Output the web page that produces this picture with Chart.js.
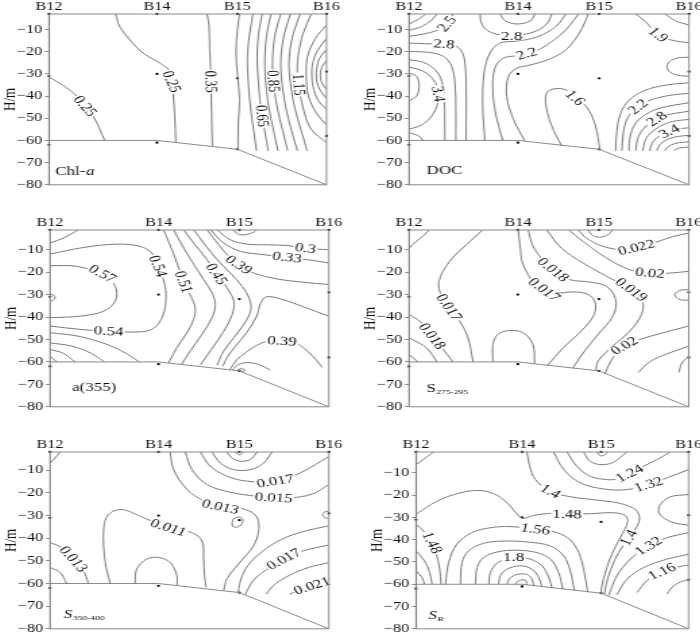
<!DOCTYPE html>
<html>
<head>
<meta charset="utf-8">
<script src="https://cdn.jsdelivr.net/npm/chart.js@4.4.1/dist/chart.umd.min.js"></script>
<style>
  html, body { margin: 0; padding: 0; background: #fff; overflow: hidden; }
  body { width: 700px; height: 635px; position: relative; }
  .panel { position: absolute; transform-origin: 0 0; }
</style>
</head>
<body>
<script>
// Stations and sampling depths
const stationNames = ['B12', 'B14', 'B15', 'B16'];
const stationX = [0, 38.9, 67.9, 100];
const sampleDepths = [[0, -31, -62], [0, -30, -61], [0, -32, -64], [0, -29, -58]];
const bottomX = [0, 38.9, 67.9, 100];
const bottomDepth = [-60, -60, -64, -80];
const depthTicks = [-10, -20, -30, -40, -50, -60, -70, -80];

// Chl-a contours [distance, depth]
const chlLines = [
  [[0,-31.4],[6.4,-36.3],[11.2,-41.5],[15.9,-49],[20.1,-60]],
  [[24,-3],[25.5,-8.7],[29.1,-14.6],[33.9,-20.6],[39.9,-25.1],[43.5,-28.8],[44.7,-38.5],[45.3,-49],[45.7,-61]],
  [[57,-3],[57.7,-8.7],[57.9,-19.1],[58.2,-26.6],[58.5,-41.5],[58.7,-53.5],[58.9,-62.5]],
  [[68.7,-3],[67.9,-10],[67.4,-20],[67.9,-30.3],[68.7,-42],[68.2,-52],[68.1,-64]],
  [[73.5,-3],[72.3,-12],[71.5,-22],[71.7,-31],[72.6,-45],[73.8,-56],[74.8,-64.7]],
  [[76.8,-3],[75.5,-12],[75,-22],[75.3,-31],[76.3,-45],[77.8,-56],[79,-64.7]],
  [[80,-3],[78.5,-12],[77.8,-22],[77.9,-31],[79.2,-45],[81,-56],[82.5,-64.7]],
  [[83.5,-3],[81.5,-12],[80.6,-22],[80.7,-31],[82.2,-45],[84.3,-56],[86,-64.7]],
  [[87,-3],[84.8,-12],[83.6,-22],[83.7,-31],[85.3,-45],[87.5,-56],[89.5,-64.7]],
  [[90.5,-3],[88,-12],[86.6,-22],[86.7,-31],[88.5,-45],[91,-56],[93,-64.7]],
  [[94.5,-3],[91.5,-12],[89.8,-22],[89.6,-31],[91.5,-45],[94.5,-55],[100,-61]],
  [[100,-8],[96,-14],[93.2,-22],[92.7,-30.5],[93.5,-40],[96.5,-48],[100,-53]],
  [[100,-14],[96.5,-20],[94.9,-26],[94.7,-30.5],[95.2,-36],[97,-42],[100,-46]],
  [[100,-19],[97.5,-23],[96.4,-28],[96.3,-30.5],[96.6,-34],[98,-38],[100,-41]],
  [[100,-24],[98.3,-27],[97.8,-30.5],[98.3,-34],[100,-37]]
];
const chlLabels = [['0.25',13,-44.5],['0.25',44.2,-33.5],['0.35',58.3,-33.5],['0.85',80.8,-33.3],['0.65',76.8,-49],['1.15',90,-34.8]];

// DOC contours
const docLines = [
  [[0,-7.5],[3.3,-5.4],[6,-3]],
  [[0,-10.4],[4.5,-8.7],[8.1,-5.7],[9.9,-3]],
  [[0,-13.1],[5.7,-11.9],[10.5,-10.1],[13.5,-7.5],[15.8,-3]],
  [[0,-16.1],[5.7,-16.4],[12.9,-16.6],[16.4,-17.3],[18.8,-19.8],[20,-25.1],[20.4,-35.6],[20.4,-60]],
  [[0,-19.9],[6.9,-20.3],[12.3,-22.1],[15.2,-26.6],[16.4,-34.1],[16.7,-46],[16.7,-60]],
  [[0,-23.6],[5.1,-24.8],[9.3,-28.1],[11.7,-33.3],[12.6,-41.5],[12.8,-60]],
  [[0,-26.9],[5.1,-28.8],[8.7,-32.6],[10.5,-37.8],[10.3,-43],[8.1,-49],[4.5,-53],[0,-55]],
  [[0,-29.6],[2.7,-31.1],[3.6,-35.6],[2.7,-40],[0,-42.3]],
  [[0,-56.5],[3.5,-58],[5,-60]],
  [[25.4,-3],[25.7,-6.5],[27.5,-10],[31,-12],[36.7,-12.8],[42,-12],[46.5,-10],[49.5,-7],[51,-3]],
  [[32.5,-3],[34.3,-6],[38.5,-7.5],[43.2,-6.2],[45,-3]],
  [[27.1,-60],[26.3,-44.5],[26.8,-29.6],[28.9,-20.6],[32.5,-16.1],[38,-15.3],[44,-14],[49,-11.5],[53,-8],[56,-3]],
  [[33.5,-60],[31.1,-49],[29.9,-37],[30.7,-27.3],[33.7,-22.9],[38.4,-21.8],[42,-20.9],[46.8,-18.8],[50.9,-15.5],[54.5,-12],[57.5,-8],[60.5,-3]],
  [[41.4,-60.4],[37.3,-50.5],[34.9,-40.2],[35.5,-31.2],[38.4,-27.5],[43.2,-26],[49.2,-23.8],[55.1,-20.1],[59,-15],[62,-9],[64,-3]],
  [[54.5,-62.5],[50.8,-53],[48.8,-43],[49.5,-38],[53,-36.6],[56.5,-37.5],[59.3,-40.8],[63.5,-45],[66.5,-53],[68.2,-64.2]],
  [[81,-3],[84.5,-6.5],[89,-12.3],[93.5,-14.7],[100,-16]],
  [[91.5,-3],[95,-6],[100,-8]],
  [[100,-22.5],[96,-22.8],[93,-24.5],[92.2,-27],[93.5,-29.5],[97,-30.8],[100,-31]],
  [[73.8,-64.7],[74.2,-56],[75.5,-48],[78.5,-42],[84,-37.5],[92,-35],[100,-34]],
  [[76,-64.7],[76.5,-57],[78,-50],[81.5,-45],[87,-41.5],[94,-39.5],[100,-38.8]],
  [[78.5,-64.7],[79,-58],[80.8,-52.5],[84.5,-48.3],[90,-45.3],[100,-43]],
  [[81,-64.7],[81.6,-59.5],[83.5,-55],[87,-51.3],[91.5,-48.7],[100,-46.8]],
  [[83.5,-64.7],[84.2,-60.5],[86,-57],[89.5,-53.7],[94,-51.5],[100,-50.5]],
  [[86,-64.7],[86.7,-61.5],[88.5,-58.8],[91.5,-56.5],[95,-55],[100,-54.3]],
  [[88.5,-64.7],[89.5,-62],[92,-59.7],[96,-58.2],[100,-57.7]],
  [[91.3,-64.7],[92.5,-62.8],[95,-61.4],[98,-60.8],[100,-60.7]],
  [[94.5,-64.7],[96,-63.6],[98.5,-63.1],[100,-63]]
];
const docLabels = [['2.5',13.5,-7.5],['2.8',12.5,-16.6],['3.4',10.5,-39],['2.8',36.7,-12.8],['2.2',42,-20.9],['1.6',59.3,-40.8],['1.9',89,-12.3],['2.2',81.8,-44.8],['2.8',88.5,-50.3],['3.4',93,-55.9]];

// a(355) contours
const a355Lines = [
  [[0,-7],[4.8,-4.8],[9,-2],[10.2,-1]],
  [[0,-11.9],[12,-9],[24,-7.5],[32.3,-8.5],[36.5,-11.5],[38.6,-16.7],[40.7,-23.3],[41.6,-30.7],[40.4,-39.6],[37.1,-45.1],[32.3,-46.6],[20.4,-46.3],[10.8,-45.5],[0,-44]],
  [[0,-17.1],[9.6,-17.4],[19.2,-21.1],[23.4,-26.3],[23.4,-32.9],[19.2,-37.4],[10.8,-39.6],[0,-40.3]],
  [[0,-29.7],[1.4,-30.3],[1.8,-31.5],[1,-32.6],[0,-33]],
  [[0,-47],[10,-48.5],[20,-52],[27,-56],[32,-60]],
  [[0,-51.5],[8,-53],[14.5,-56],[19.5,-60]],
  [[0,-54.5],[4.5,-56],[9,-60]],
  [[0,-57.5],[2.5,-60]],
  [[40.7,-1],[42.5,-6.3],[44.9,-13.7],[47.7,-23.3],[50.5,-30.7],[52.1,-35.9],[51.5,-41.1],[49.1,-47],[45.5,-53.6],[42.5,-60.5]],
  [[44.3,-1],[47.3,-7.8],[50.9,-15.2],[55.1,-23.3],[58.1,-29.2],[59.3,-34.4],[58.1,-40.3],[54.5,-47.7],[50.3,-55.1],[47.3,-60.9]],
  [[47.9,-1],[51.5,-7],[56.3,-14.4],[59.9,-21.1],[63.5,-27],[65.9,-32.9],[65.3,-38.9],[62.3,-46.3],[57.5,-55.1],[53.9,-61.4]],
  [[51.5,-1],[55.1,-7],[59.9,-14.4],[64.7,-20.4],[68.9,-26.3],[71.6,-32.2],[71.9,-37.4],[69.5,-43.3],[65.9,-49.2],[62.3,-55.1],[59.9,-61.5]],
  [[56.3,-1],[60.5,-7.8],[64.7,-13.7],[67.7,-16.7],[73.1,-20.4],[81.4,-23],[91,-24.5],[100,-25.5]],
  [[65.9,-1],[67.3,-3],[70.1,-3.3],[73.1,-2.1],[74.3,-1]],
  [[59.9,-1],[64.7,-5.6],[70.7,-7.5],[77.8,-7.8],[85,-8.1],[91.6,-9.3],[95.8,-9.7],[100,-10]],
  [[57.5,-1],[62.3,-7],[68.3,-10.7],[76.6,-12.2],[85,-13.4],[92.2,-14.4],[100,-15.9]],
  [[100,-39.6],[91,-35.5],[83,-32],[77.5,-31],[75.5,-34],[74,-40],[70.5,-47],[66.5,-53],[63.5,-58],[62,-61.8]],
  [[64.5,-63.3],[67,-59],[70.1,-55.9],[74.3,-52.5],[78.4,-50.7],[83.2,-50.7],[88,-51.4],[92.2,-55.1],[95.8,-59.6],[97.6,-62.5]],
  [[65.5,-63.5],[67.5,-61.2],[71,-60.3],[75,-61.2],[79,-63.6]],
  [[67.2,-63.6],[68.6,-63],[70,-63.7],[68.6,-64.3],[67.2,-63.6]]
];
const a355Labels = [['0.57',18.8,-20.7],['0.54',38.7,-17.3],['0.54',21,-46.3],['0.51',47.9,-24.3],['0.45',59.7,-20.8],['0.39',67.7,-16.7],['0.33',85,-13.4],['0.3',91.6,-9.3],['0.39',83.2,-50.7]];

// S275-295 contours
const s275Lines = [
  [[0,-9.3],[2.6,-6.3],[5.6,-3.3],[7.2,-1]],
  [[26.5,-1],[20.5,-7.8],[14.5,-15.2],[10.7,-24.1],[11.6,-30.7],[14.5,-35.9],[18.1,-41.8],[21.1,-49.2],[22.9,-60]],
  [[0,-38.9],[4,-42],[8.3,-48.5],[11.8,-53.7],[15.7,-60]],
  [[0,-49.2],[6.2,-53.7],[10,-60]],
  [[0,-56.6],[3.2,-60]],
  [[30,-60],[30,-52.2],[31.8,-47.7],[36,-46],[40.8,-47],[44.3,-52.2],[44.9,-60.8]],
  [[39,-1],[39.8,-9.3],[40.4,-15.2],[42.6,-21.1],[45.5,-26.3],[51.5,-29.2],[59.8,-28.8],[64.6,-30.3],[66.7,-34.4],[65.6,-40.3],[60.4,-47.7],[55.1,-53.7],[49.5,-61.6]],
  [[42.6,-1],[44.1,-7.8],[47.3,-13.7],[51.5,-18.9],[57.4,-23.3],[64.6,-24.4],[70.6,-26.3],[73.9,-32.2],[72.9,-39.6],[67.6,-47.7],[62.8,-55.1],[58.5,-62.8]],
  [[49.1,-1],[54.5,-9.3],[62.2,-15.9],[71.8,-22.6],[79.5,-27.8],[83.4,-32.9],[83.1,-38.9],[78.9,-46.3],[72.9,-52.9],[67.6,-59.6],[66.8,-64]],
  [[56.9,-1],[62.2,-6.3],[70.6,-13.7],[78.9,-18.9],[86.1,-20.4],[93.2,-20.4],[100,-19.6]],
  [[60.4,-1],[63.4,-4.8],[69.4,-8.5],[76.5,-10],[81.3,-9],[88.4,-6.6],[94.4,-4.1],[100,-2.6]],
  [[64,-1],[65.6,-3.6],[68.2,-4.4],[71.2,-3.3],[72.9,-1]],
  [[100,-27.8],[96.8,-28.1],[95,-30],[96.8,-32.2],[100,-32.5]],
  [[70,-65.5],[72,-60],[74.5,-55.5],[77,-52.8],[82.5,-50],[90.8,-47],[100,-44]],
  [[82,-64.7],[86,-60],[92,-56.5],[100,-53]],
  [[96.5,-64.7],[97.5,-60.5],[99.2,-58.5],[100,-57.5]]
];
const s275Labels = [['0.022',81.3,-9],['0.018',51.5,-18.9],['0.017',48.3,-27.8],['0.02',86.1,-20.4],['0.019',79.5,-27.8],['0.017',14.3,-35.7],['0.018',8.3,-48.5],['0.02',77,-52.8]];

// S350-400 contours
const s350Lines = [
  [[0,-6.8],[1.8,-4.6],[3.6,-1.9]],
  [[0,-41.9],[4.2,-44.1],[8.4,-49.2],[12,-54.4],[13.8,-60]],
  [[0,-52.9],[3.6,-55.1],[6,-60]],
  [[21.6,-60],[19.8,-50.7],[19.2,-36.1],[21,-29.5],[25.7,-27.3],[33.5,-30.9],[42.5,-35.3],[50.9,-37.5],[54.5,-41.2],[55.1,-49.2],[55.4,-56.6],[56,-61.7]],
  [[30.5,-60],[31.1,-53.6],[34.7,-49.2],[38.9,-48.5],[43.1,-50.7],[45.5,-56.6],[45.5,-61]],
  [[43.1,-1.9],[44.3,-9.6],[49.1,-18.4],[55.1,-23.5],[61.1,-26.1],[68.3,-26.7],[73.7,-29.8],[74.9,-35.7],[73.1,-43.1],[68.3,-50.4],[63.5,-57.8],[62.3,-63]],
  [[66,-31.2],[68,-30.6],[69.2,-32],[68,-34.6],[65.8,-35],[65.3,-33],[66,-31.2]],
  [[48.5,-1.9],[50.9,-9.6],[56.3,-16.3],[64.7,-19.7],[74.3,-21.5],[80.2,-22.1],[86.2,-22.2],[94,-20.5],[100,-16.3]],
  [[53.9,-1.9],[57.5,-8.2],[63.5,-12.6],[70.7,-14.8],[80.8,-14.8],[89.8,-11.1],[100,-3.9]],
  [[58.1,-1.9],[61.1,-6.8],[65.9,-9.7],[71.9,-9.7],[76.6,-6.8],[79.6,-1.9]],
  [[63.5,-1.9],[65.3,-4.6],[68.3,-6],[71.9,-5.2],[74.3,-1.9]],
  [[66.5,-1.9],[68,-3.2],[69.5,-1.9]],
  [[100,-28],[98.3,-28.5],[97.8,-29.8],[98.8,-31],[100,-31.2]],
  [[100,-34.5],[91,-37],[83,-40.5],[76,-46],[71,-52],[68.5,-58],[67.5,-63.8]],
  [[70,-64.8],[73,-58.5],[77.5,-54],[83.8,-49.2],[91,-45.5],[100,-43]],
  [[77.5,-64.7],[80.5,-60.5],[86,-56.3],[93,-52.8],[100,-50.8]],
  [[86,-64.7],[89.5,-62.8],[94,-61],[97.5,-59.8],[100,-59.3]]
];
const s350Labels = [['0.013',8.4,-49.2],['0.011',42.5,-35.3],['0.013',61.1,-26.1],['0.015',80.2,-22.1],['0.017',80.8,-14.8],['0.017',83.8,-49.2],['0.021',94,-61]];

// SR contours
const srLines = [
  [[0,-6.3],[3.4,-3.3],[6.5,-0.6]],
  [[40.7,-0.6],[41.7,-7],[43.8,-13],[49.3,-18.2],[56.6,-20.7],[66.4,-22.2],[74.9,-23.7],[80.4,-26.4],[82,-30.1],[80.8,-34.6],[78,-39.1],[74.3,-45.8],[71.5,-53.2],[69.8,-59.9],[69.1,-64.5]],
  [[0,-28.6],[7.7,-22.7],[16.3,-18.9],[23.6,-17.9],[29.7,-20],[34.6,-24.9],[37.7,-29.4],[39.5,-30.4],[43.2,-29.1],[48.7,-28.2],[55.4,-28.6],[63.9,-28.3],[72.5,-27.9],[76.8,-29.1],[77.6,-32.1],[75.6,-37.6],[72.5,-44.7],[70,-52.5],[68.5,-59],[67.8,-64]],
  [[0,-33.1],[2.8,-36.1],[5.9,-41.3],[7.5,-46.5],[8.7,-53.2],[9.2,-60]],
  [[0,-45],[3.1,-49.5],[5,-54.7],[5.9,-60]],
  [[0,-54],[2.2,-56.9],[3.1,-60]],
  [[10.8,-60],[12,-50.2],[15,-42],[20.5,-36.8],[27.3,-34.6],[34.6,-34.1],[43.8,-35.3],[51.7,-36.8],[56.6,-40.1],[59.7,-45.8],[61.5,-53.2],[63,-63.6]],
  [[16.3,-60],[16.9,-50.2],[19.3,-45],[24.8,-41.6],[32.2,-40.6],[40.7,-41],[49.3,-42.8],[54.2,-47.3],[56.6,-54],[58.1,-62.9]],
  [[21.8,-60],[22.4,-52.5],[24.8,-48],[29.7,-45.5],[37,-44.7],[44.4,-45.8],[49.3,-48.7],[52.3,-54.7],[53.9,-62.3]],
  [[26.7,-60],[27.3,-54.7],[29.7,-50.5],[33.4,-48.7],[37,-48],[41.9,-48.7],[46.2,-51.7],[48.7,-56.9],[49.9,-61.7]],
  [[30.3,-60],[30.9,-56.2],[33.4,-53.2],[38.3,-51.7],[42.5,-53.2],[45,-56.9],[46.2,-61.1]],
  [[33.4,-60],[34.4,-57.4],[37,-55.6],[40.7,-55.6],[42.5,-57.7],[43.2,-60.6]],
  [[36.4,-60],[37.7,-58.4],[40.1,-58.1],[40.7,-60.3]],
  [[66.4,-0.6],[67.6,-2.3],[69.4,-1.8],[70.3,-0.6]],
  [[61.5,-0.6],[63.9,-4.8],[68.2,-6.3],[72.5,-5.2],[75.6,-2.3],[77.4,-0.6]],
  [[55.4,-0.6],[59,-7],[63.9,-11.5],[70,-13],[73.7,-12.7],[78.6,-10.3],[83.5,-7],[88.4,-4],[93.3,-0.6]],
  [[50.5,-0.6],[54.2,-8.5],[60.3,-14.5],[68.8,-17.2],[77.4,-17.5],[85.3,-15.2],[92.1,-12.2],[100,-8.5]],
  [[100,-19.7],[93.3,-20.7],[89.4,-24.6],[89.4,-28.6],[93.9,-32.1],[100,-33.5]],
  [[70.7,-64.9],[73.7,-56.2],[78.6,-48.7],[85.3,-42.8],[92.1,-39.1],[100,-36.8]],
  [[73.7,-64.7],[77.4,-57.7],[83.5,-52.5],[92.1,-48.7],[100,-46.5]],
  [[81.1,-63.7],[84.7,-58.4],[90.8,-54],[98.2,-51.7],[100,-51.4]],
  [[92.1,-64.4],[94.5,-60.7],[98.2,-58.4],[100,-58]]
];
const srLabels = [['1.4',49.3,-18.2],['1.4',78,-39.1],['1.48',55.4,-28.6],['1.48',5.9,-41.3],['1.56',43.8,-35.3],['1.8',35.8,-48],['1.24',78.3,-10.2],['1.32',85.3,-15.2],['1.32',85.3,-42.8],['1.16',90.2,-54.2]];

// panel names: [text, style] n = normal, i = italic, sub = subscript, subi = italic subscript
const chlName = [['Chl-', 'n'], ['a', 'i']];
const docName = [['DOC', 'n']];
const a355Name = [['a(355)', 'n']];
const s275Name = [['S', 'n'], ['275-295', 'sub']];
const s350Name = [['S', 'i'], ['350-400', 'sub']];
const srName = [['S', 'i'], ['R', 'subi']];

const STRETCH = 1.35;
const FONT = "'Liberation Serif', 'Times New Roman', serif";
const LINE_COLOR = '#7a7a7a';
const FRAME_COLOR = '#8a8a8a';

const panels = [
  { lines: chlLines, labels: chlLabels, name: chlName, namePos: [2.3, -75.8], top: -3, box: [49, 14, 326.5, 186] },
  { lines: docLines, labels: docLabels, name: docName, namePos: [6.3, -75.2], top: -3, box: [409, 14, 689, 186] },
  { lines: a355Lines, labels: a355Labels, name: a355Name, namePos: [8, -73], top: -1.2, box: [49.5, 230, 328.3, 407.7] },
  { lines: s275Lines, labels: s275Labels, name: s275Name, namePos: [6.2, -73.6], top: -1.2, box: [409.3, 230, 689, 407.7] },
  { lines: s350Lines, labels: s350Labels, name: s350Name, namePos: [5, -75.3], top: -1.9, box: [49.5, 452.3, 328.3, 630] },
  { lines: srLines, labels: srLabels, name: srName, namePos: [4.5, -75.6], top: -0.6, box: [415.7, 452.3, 688.3, 630] }
];

// direction of the contour nearest to a label (central difference at the nearest vertex)
function labelAngle(lines, px, py, xs, ys) {
  let best = Infinity, ang = 0;
  lines.forEach(pts => {
    const pix = pts.map(([a, b]) => [xs.getPixelForValue(a), ys.getPixelForValue(b)]);
    pix.forEach(([vx, vy], i) => {
      const dist = (vx - px) ** 2 + (vy - py) ** 2;
      if (dist < best) {
        best = dist;
        const p0 = pix[Math.max(0, i - 1)], p1 = pix[Math.min(pix.length - 1, i + 1)];
        ang = Math.atan2(p1[1] - p0[1], p1[0] - p0[0]);
      }
    });
  });
  if (ang > Math.PI / 2) ang -= Math.PI;
  if (ang <= -Math.PI / 2) ang += Math.PI;
  return ang;
}

const sectionText = {
  id: 'sectionText',
  afterDatasetsDraw(chart, args, opts) {
    const p = opts.panel;
    const { ctx, chartArea } = chart;
    const xs = chart.scales.x, ys = chart.scales.y;
    ctx.save();

    // contour values
    ctx.font = `12.5px ${FONT}`;
    ctx.textAlign = 'center';
    ctx.textBaseline = 'middle';
    p.labels.forEach(([txt, lx, ly]) => {
      const px = xs.getPixelForValue(lx), py = ys.getPixelForValue(ly);
      const ang = labelAngle(p.lines, px, py, xs, ys);
      ctx.save();
      ctx.translate(px, py);
      ctx.rotate(ang);
      const w = ctx.measureText(txt).width;
      ctx.fillStyle = '#fff';
      ctx.fillRect(-w / 2 - 1, -4.5, w + 2, 9);
      ctx.fillStyle = '#111';
      ctx.fillText(txt, 0, 0.5);
      ctx.restore();
    });

    // station names
    ctx.font = `12px ${FONT}`;
    ctx.textBaseline = 'alphabetic';
    ctx.fillStyle = '#111';
    stationNames.forEach((n, i) => {
      ctx.fillText(n, xs.getPixelForValue(stationX[i]), chartArea.top - 4);
    });

    // panel name
    let cx = xs.getPixelForValue(p.namePos[0]);
    const by = ys.getPixelForValue(p.namePos[1]);
    ctx.textAlign = 'left';
    p.name.forEach(([t, st]) => {
      const sub = st === 'sub' || st === 'subi';
      const ital = st === 'i' || st === 'subi';
      ctx.font = `${ital ? 'italic ' : ''}${sub ? 7 : 12.5}px ${FONT}`;
      ctx.fillText(t, cx, by + (sub ? 2 : 0));
      cx += ctx.measureText(t).width + 0.5;
    });
    ctx.restore();
  },
  afterDraw(chart) {
    const { ctx, chartArea: a } = chart;
    ctx.save();
    ctx.strokeStyle = FRAME_COLOR;
    ctx.lineWidth = 1;
    ctx.strokeRect(a.left, a.top, a.right - a.left, a.bottom - a.top);
    ctx.restore();
  }
};

panels.forEach(p => {
  const [l, t, r, b] = p.box;
  const axisW = 49, rightPad = 16, topPad = 14, botPad = 8;
  const W = Math.round((r - l + axisW + rightPad) / STRETCH);
  const H = Math.round(b - t + topPad + botPad);
  const plotW = (r - l) / STRETCH;

  const wrap = document.createElement('div');
  wrap.className = 'panel';
  wrap.style.left = (l - axisW) + 'px';
  wrap.style.top = (t - topPad) + 'px';
  wrap.style.transform = `scaleX(${STRETCH})`;
  const cv = document.createElement('canvas');
  cv.width = W;
  cv.height = H;
  wrap.appendChild(cv);
  document.body.appendChild(wrap);

  const datasets = p.lines.map(pts => ({
    data: pts.map(([x, y]) => ({ x, y })),
    showLine: true, borderColor: LINE_COLOR, borderWidth: 1,
    pointRadius: 0, tension: 0.35, fill: false
  }));
  datasets.push({
    data: bottomX.map((x, i) => ({ x, y: bottomDepth[i] })),
    showLine: true, borderColor: FRAME_COLOR, borderWidth: 1, pointRadius: 0, tension: 0
  });
  const dots = [];
  stationX.forEach((sx, i) => sampleDepths[i].forEach(d => dots.push({ x: sx, y: Math.min(d, p.top) })));
  datasets.push({
    data: dots, showLine: false, pointRadius: 1.15, pointBorderWidth: 0,
    pointBackgroundColor: '#000', clip: false
  });

  new Chart(cv, {
    type: 'scatter',
    data: { datasets },
    options: {
      responsive: false,
      animation: false,
      devicePixelRatio: 1,
      layout: { padding: { left: 0, right: W - axisW / STRETCH - plotW, top: topPad, bottom: botPad } },
      plugins: { legend: { display: false }, tooltip: { enabled: false }, sectionText: { panel: p } },
      scales: {
        x: { type: 'linear', min: 0, max: 100, display: false },
        y: {
          type: 'linear', min: -80, max: p.top,
          afterBuildTicks: s => { s.ticks = depthTicks.map(v => ({ value: v })); },
          afterFit: s => { s.width = axisW / STRETCH; },
          ticks: {
            autoSkip: false, padding: 2, color: '#111',
            font: { family: FONT, size: 12 },
            callback: v => '\u2212' + Math.abs(v)
          },
          grid: { drawOnChartArea: false, drawTicks: true, tickLength: 3, color: FRAME_COLOR },
          border: { display: true, color: FRAME_COLOR },
          title: { display: true, text: 'H/m', color: '#111', padding: 0, font: { family: FONT, size: 13 } }
        }
      }
    },
    plugins: [sectionText]
  });
});
</script>
</body>
</html>
